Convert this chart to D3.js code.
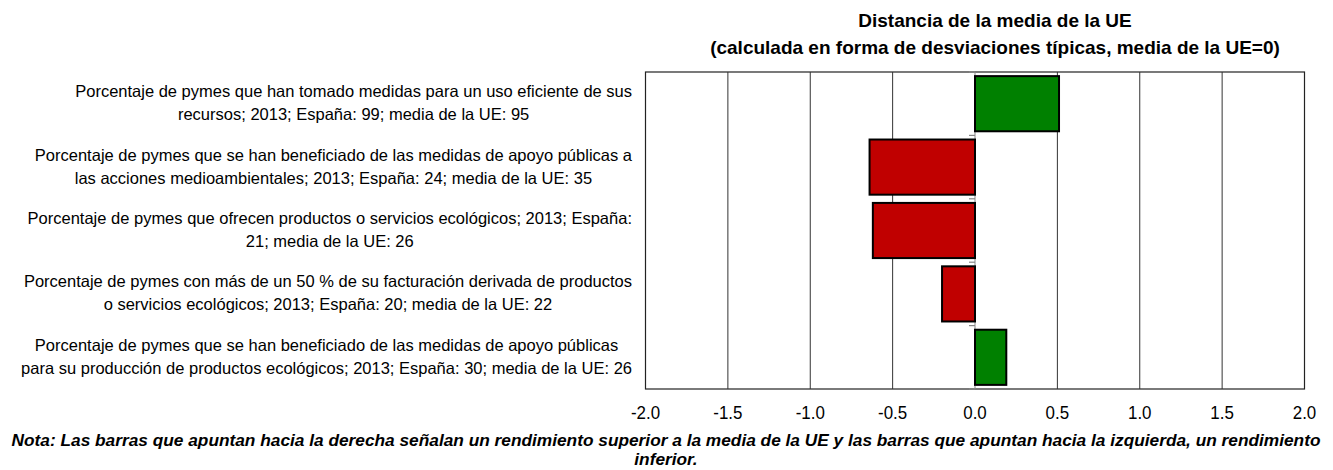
<html lang="es">
  <head>
    <meta charset="utf-8" />
    <title>Distancia de la media de la UE</title>
    <script src="https://cdn.jsdelivr.net/npm/d3@7"></script>
    <style>
      body { margin: 0; background: #fff; }
      text { font-family: "Liberation Sans", Arial, sans-serif; }
    </style>
  </head>
  <body>
    <script>
      /*************************** Data ***************************/

      var categories = [
        ["Porcentaje de pymes que han tomado medidas para un uso eficiente de sus",
         "recursos; 2013; España: 99; media de la UE: 95"],
        ["Porcentaje de pymes que se han beneficiado de las medidas de apoyo públicas a",
         "las acciones medioambientales; 2013; España: 24; media de la UE: 35"],
        ["Porcentaje de pymes que ofrecen productos o servicios ecológicos; 2013; España:",
         "21; media de la UE: 26"],
        ["Porcentaje de pymes con más de un 50 % de su facturación derivada de productos",
         "o servicios ecológicos; 2013; España: 20; media de la UE: 22"],
        ["Porcentaje de pymes que se han beneficiado de las medidas de apoyo públicas",
         "para su producción de productos ecológicos; 2013; España: 30; media de la UE: 26"]
      ];
      var values = [0.51, -0.64, -0.62, -0.2, 0.19];
      var xTicks = [-2, -1.5, -1, -0.5, 0, 0.5, 1, 1.5, 2];
      var titleLines = [
        "Distancia de la media de la UE",
        "(calculada en forma de desviaciones típicas, media de la UE=0)"
      ];
      var noteLines = [
        "Nota: Las barras que apuntan hacia la derecha señalan un rendimiento superior a la media de la UE y las barras que apuntan hacia la izquierda, un rendimiento",
        "inferior."
      ];

      /*************************** Canvas ***************************/

      var W = 1333, H = 470;
      var svg = d3.select("body").append("svg")
        .attr("width", W).attr("height", H);

      var x = d3.scaleLinear().domain([-2, 2]).range([645.5, 1304.5]);
      var y = d3.scaleBand().domain(d3.range(categories.length))
        .range([72, 389]).paddingInner(0.13).paddingOuter(0.065);

      // horizontal squeeze around the text anchor
      function squeeze(sel, k) {
        sel.each(function () {
          var t = d3.select(this);
          var ax = +t.attr("x");
          t.attr("transform", "translate(" + ax + ",0) scale(" + k + ",1) translate(" + (-ax) + ",0)");
        });
      }

      /*************************** Title ***************************/

      svg.append("g").selectAll("text").data(titleLines).join("text")
        .attr("x", 995).attr("y", function (d, i) { return 27 + i * 27; })
        .attr("text-anchor", "middle")
        .style("font-size", "19px").style("font-weight", "bold")
        .text(function (d) { return d; });

      /*************************** Plot ***************************/

      var plot = svg.append("g");

      plot.append("rect")
        .attr("x", x(-2)).attr("y", 72)
        .attr("width", x(2) - x(-2)).attr("height", 389 - 72)
        .attr("fill", "none").attr("stroke", "#222").attr("stroke-width", 1.2);

      plot.selectAll("line.grid").data(xTicks.filter(function (d) { return d > -2 && d < 2; }))
        .join("line").attr("class", "grid")
        .attr("x1", function (d) { return x(d); }).attr("x2", function (d) { return x(d); })
        .attr("y1", 72).attr("y2", 389)
        .attr("stroke", function (d) { return d === 0 ? "#888" : "#333"; })
        .attr("stroke-width", 1);

      // little ticks on the zero axis between categories
      var bounds = d3.range(categories.length + 1).map(function (i) {
        return i === categories.length ? 389 : y(i) - y.step() * y.paddingInner() / 2;
      });
      bounds[0] = 72;
      plot.selectAll("line.tk").data(bounds).join("line").attr("class", "tk")
        .attr("x1", x(0) - 6).attr("x2", x(0))
        .attr("y1", function (d) { return d; }).attr("y2", function (d) { return d; })
        .attr("stroke", "#888").attr("stroke-width", 1.2);

      plot.selectAll("rect.bar").data(values).join("rect").attr("class", "bar")
        .attr("x", function (d) { return x(Math.min(0, d)); })
        .attr("y", function (d, i) { return y(i); })
        .attr("width", function (d) { return Math.abs(x(d) - x(0)); })
        .attr("height", y.bandwidth())
        .attr("fill", function (d) { return d >= 0 ? "#008000" : "#C00000"; })
        .attr("stroke", "#000").attr("stroke-width", 2);

      /*************************** Axis labels ***************************/

      svg.append("g").selectAll("text").data(xTicks).join("text")
        .attr("x", function (d) { return x(d); }).attr("y", 419)
        .attr("text-anchor", "middle")
        .style("font-size", "18px")
        .text(function (d) { return d.toFixed(1); })
        .call(squeeze, 0.94);

      /*************************** Category labels ***************************/

      var labG = svg.append("g");
      categories.forEach(function (lines, i) {
        var g = labG.append("g");
        var cy = y(i) + y.bandwidth() / 2;
        var txt = g.selectAll("text").data(lines).join("text")
          .attr("y", function (d, j) { return cy + 5 + (j - 0.5) * 23; })
          .attr("text-anchor", "middle")
          .style("font-size", "16.5px")
          .text(function (d) { return d; });
        var maxW = 0;
        txt.each(function () { maxW = Math.max(maxW, this.getComputedTextLength()); });
        txt.attr("x", 632 - maxW / 2);
      });

      /*************************** Note ***************************/

      svg.append("g").selectAll("text").data(noteLines).join("text")
        .attr("x", 666).attr("y", function (d, i) { return 446 + i * 19; })
        .attr("text-anchor", "middle")
        .style("font-size", "17.3px").style("font-weight", "bold").style("font-style", "italic")
        .text(function (d) { return d; });
    </script>
  </body>
</html>
